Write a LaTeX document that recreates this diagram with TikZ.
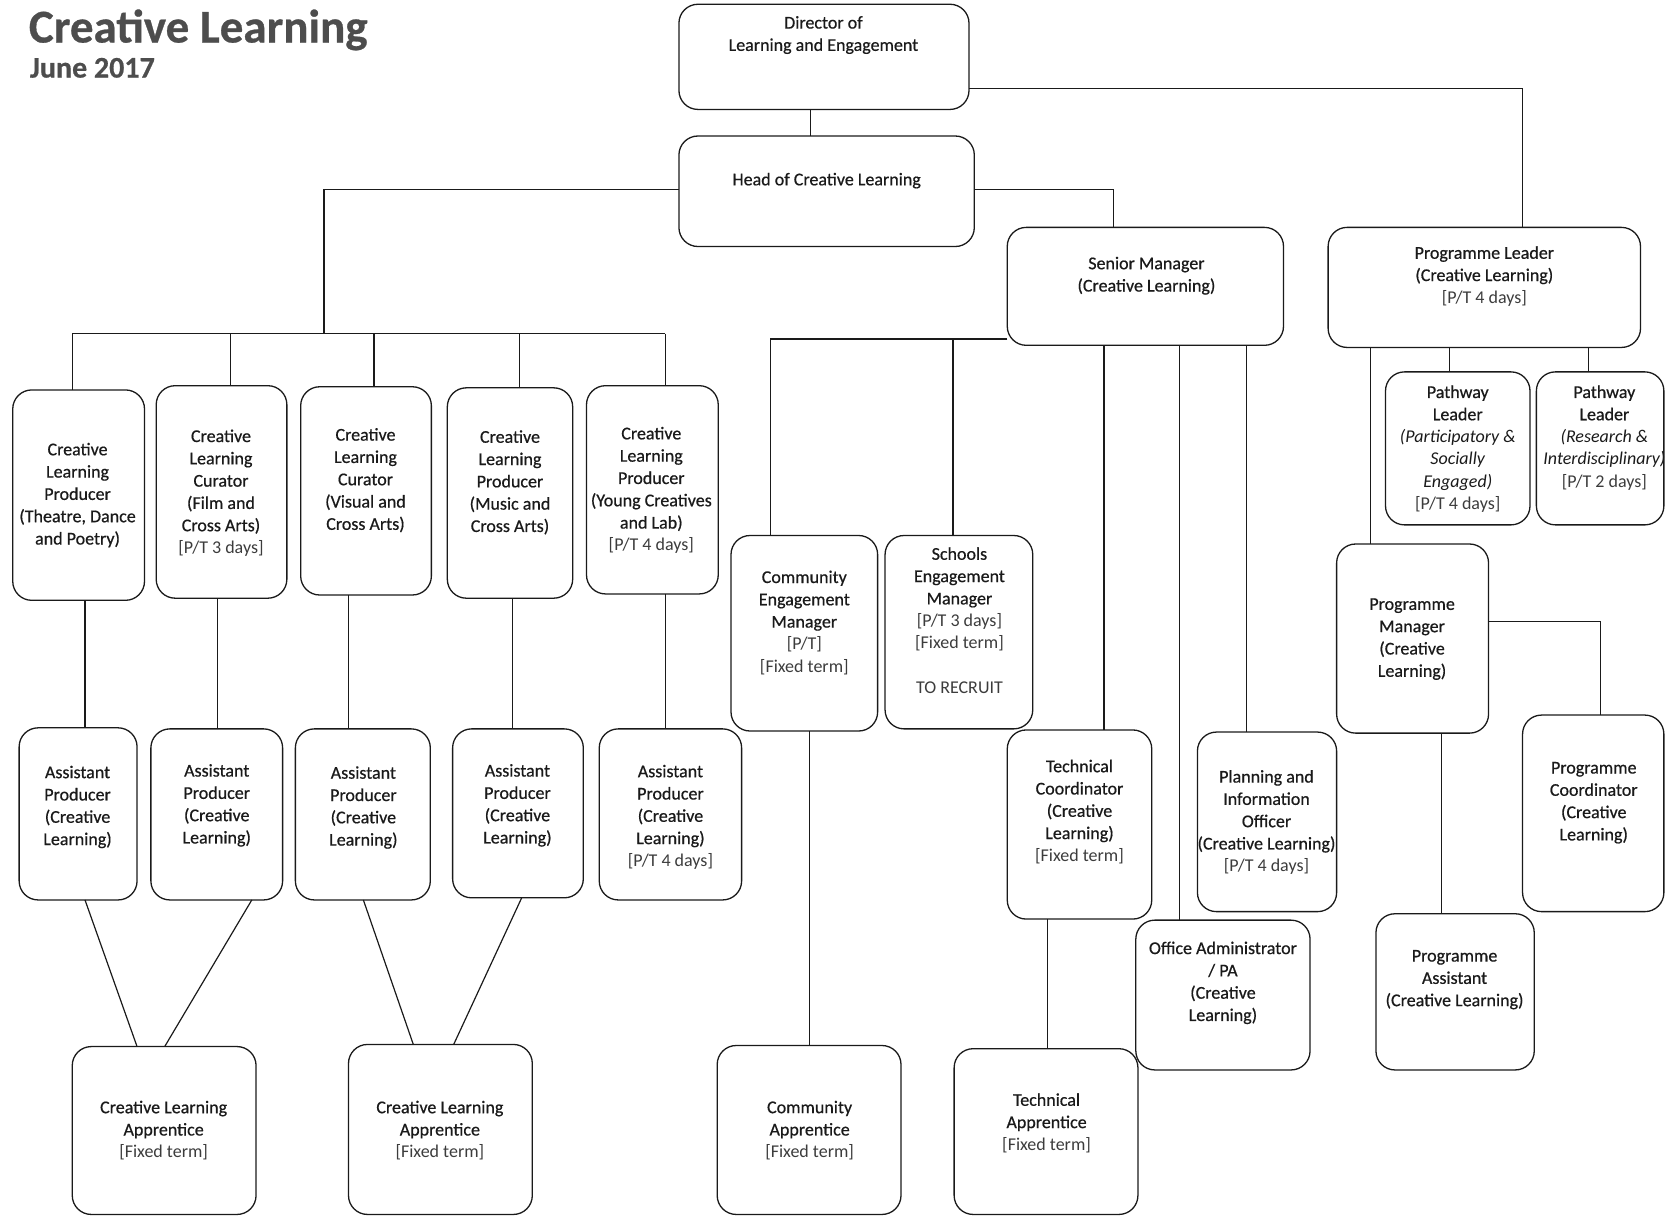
\documentclass[tikz,border=0pt]{standalone}
\usepackage{fontspec}
\setmainfont{Carlito}[FakeBold=0.6]
\newfontfamily\lightfont{Carlito}
\usetikzlibrary{fit}
\definecolor{ink}{HTML}{1A1A1A}
\definecolor{titlec}{HTML}{4D4D4D}
\tikzset{
 box/.style={draw=ink, line width=1.3pt, rounded corners=19pt, inner sep=0pt, outer sep=0pt},
 txt/.style={align=center, text=ink, font=\fontsize{18}{22.3}\selectfont, inner sep=0pt},
 conn/.style={draw=ink, line width=1.2pt},
}
\newcommand\tagb[1]{{\lightfont\color{ink!85}[#1]}}
\newcommand\bx[8]{\node[box, fit={(#2,#3)(#4,#5)}] (#1) {};
 \node[txt] (#1t) at (#6,#7) {#8};}
\begin{document}
\begin{tikzpicture}[x=1.0625pt,y=-1.0625pt]
\useasboundingbox (0,0) rectangle (1568,1145);
% title
\node[anchor=base west, font=\fontsize{47}{50}\selectfont\bfseries, text=titlec, inner sep=0pt] (title) at (27,40) {Creative Learning};
\node[anchor=base west, font=\fontsize{30}{32}\selectfont\bfseries, text=titlec, inner sep=0pt] (date) at (28,73) {June 2017};
% top
\bx{dir}{639}{4}{912}{103}{775}{33}{Director of\\Learning and Engagement}
\bx{head}{639}{128}{917}{232}{778}{170}{Head of Creative Learning}
\bx{sm}{948}{214}{1208}{325}{1079}{259.5}{Senior Manager\\(Creative Learning)}
\bx{pl}{1250}{214}{1544}{327}{1397}{260}{Programme Leader\\(Creative Learning)\\\tagb{P/T 4 days}}
\bx{pwa}{1304}{350}{1440}{494}{1372}{422.5}{Pathway\\Leader\\{\lightfont\itshape(Participatory \&}\\{\lightfont\itshape Socially}\\{\lightfont\itshape Engaged)}\\\tagb{P/T 4 days}}
\bx{pwb}{1446}{350}{1566}{494}{1510}{412}{Pathway\\Leader\\{\lightfont\itshape(Research \&}\\{\lightfont\itshape Interdisciplinary)}\\\tagb{P/T 2 days}}
% left top row
\bx{cla}{12}{367}{136}{565}{73}{466}{Creative\\Learning\\Producer\\(Theatre, Dance\\and Poetry)}
\bx{clb}{147}{363}{270}{563}{208}{464}{Creative\\Learning\\Curator\\(Film and\\Cross Arts)\\\tagb{P/T 3 days}}
\bx{clc}{283}{364}{406}{560}{344}{452}{Creative\\Learning\\Curator\\(Visual and\\Cross Arts)}
\bx{cld}{421}{365}{539}{563}{480}{454}{Creative\\Learning\\Producer\\(Music and\\Cross Arts)}
\bx{cle}{552}{363}{676}{559}{613}{461.5}{Creative\\Learning\\Producer\\(Young Creatives\\and Lab)\\\tagb{P/T 4 days}}
% assistants
\bx{apa}{18}{685}{129}{847}{73}{759.5}{Assistant\\Producer\\(Creative\\Learning)}
\bx{apb}{142}{686}{266}{847}{204}{758}{Assistant\\Producer\\(Creative\\Learning)}
\bx{apc}{278}{686}{405}{847}{342}{760}{Assistant\\Producer\\(Creative\\Learning)}
\bx{apd}{426}{686}{549}{845}{487}{758}{Assistant\\Producer\\(Creative\\Learning)}
\bx{ape}{564}{686}{698}{847}{631}{769}{Assistant\\Producer\\(Creative\\Learning)\\\tagb{P/T 4 days}}
% apprentices
\bx{appa}{68}{985}{241}{1143}{154}{1064}{Creative Learning\\Apprentice\\\tagb{Fixed term}}
\bx{appb}{328}{983}{501}{1143}{414}{1064}{Creative Learning\\Apprentice\\\tagb{Fixed term}}
\bx{capp}{675}{984}{848}{1143}{762}{1064}{Community\\Apprentice\\\tagb{Fixed term}}
\bx{tapp}{898}{987}{1071}{1143}{985}{1057}{Technical\\Apprentice\\\tagb{Fixed term}}
% senior manager team
\bx{cem}{688}{504}{826}{688}{757}{586}{Community\\Engagement\\Manager\\\tagb{P/T}\\\tagb{Fixed term}}
\bx{sem}{833}{504}{972}{686}{903}{584}{Schools\\Engagement\\Manager\\\tagb{P/T 3 days}\\\tagb{Fixed term}\\[22.3pt]{\lightfont\color{ink!85}TO RECRUIT}}
\bx{tc}{948}{687}{1084}{865}{1016}{764}{Technical\\Coordinator\\(Creative\\Learning)\\\tagb{Fixed term}}
\bx{pio}{1127}{689}{1258}{858}{1192}{774}{Planning and\\Information\\Officer\\(Creative Learning)\\\tagb{P/T 4 days}}
\bx{oa}{1069}{866}{1233}{1007}{1151}{925}{Office Administrator\\/ PA\\(Creative\\Learning)}
% programme team
\bx{pm}{1258}{512}{1401}{690}{1329}{601.5}{Programme\\Manager\\(Creative\\Learning)}
\bx{pc}{1433}{673}{1566}{858}{1500}{755.5}{Programme\\Coordinator\\(Creative\\Learning)}
\bx{pa}{1295}{860}{1444}{1007}{1369}{922}{Programme\\Assistant\\(Creative Learning)}
% ---------- connectors ----------
\coordinate (k1) at (763,0);
\draw[conn] (dir.south -| k1) -- (head.north -| k1);
\coordinate (k2) at (1433,83);
\draw[conn] (dir.east |- k2) -- (k2) -- (k2 |- pl.north);
\coordinate (k3) at (1048,178);
\draw[conn] (head.east |- k3) -- (k3) -- (k3 |- sm.north);
\coordinate (k4) at (305,178);
\coordinate (bar) at (305,314);
\draw[conn] (head.west |- k4) -- (k4) -- (bar);
\coordinate (b1) at (68,314);
\coordinate (b2) at (217,314);
\coordinate (b3) at (352,314);
\coordinate (b4) at (489,314);
\coordinate (b5) at (626,314);
\draw[conn] (b1) -- (b5);
\draw[conn] (b1) -- (b1 |- cla.north);
\draw[conn] (b2) -- (b2 |- clb.north);
\draw[conn] (b3) -- (b3 |- clc.north);
\draw[conn] (b4) -- (b4 |- cld.north);
\draw[conn] (b5) -- (b5 |- cle.north);
% top row to assistants
\coordinate (v1) at (80,0);
\coordinate (v2) at (205,0);
\coordinate (v3) at (328,0);
\coordinate (v4) at (482,0);
\coordinate (v5) at (626,0);
\draw[conn] (cla.south -| v1) -- (apa.north -| v1);
\draw[conn] (clb.south -| v2) -- (apb.north -| v2);
\draw[conn] (clc.south -| v3) -- (apc.north -| v3);
\draw[conn] (cld.south -| v4) -- (apd.north -| v4);
\draw[conn] (cle.south -| v5) -- (ape.north -| v5);
% assistants to apprentices
\coordinate (s1) at (80,0);
\coordinate (s2) at (129,0);
\coordinate (s3) at (237,0);
\coordinate (s4) at (155,0);
\coordinate (s5) at (342,0);
\coordinate (s6) at (389,0);
\coordinate (s7) at (491,0);
\coordinate (s8) at (427,0);
\draw[conn] (apa.south -| s1) -- (appa.north -| s2);
\draw[conn] (apb.south -| s3) -- (appa.north -| s4);
\draw[conn] (apc.south -| s5) -- (appb.north -| s6);
\draw[conn] (apd.south -| s7) -- (appb.north -| s8);
% senior manager
\coordinate (k5) at (725,319);
\coordinate (k6) at (897,319);
\draw[conn] (sm.west |- k5) -- (k5) -- (k5 |- cem.north);
\draw[conn] (k6) -- (k6 |- sem.north);
\coordinate (w1) at (1039,0);
\coordinate (w2) at (1110,0);
\coordinate (w3) at (1173,0);
\draw[conn] (sm.south -| w1) -- (tc.north -| w1);
\draw[conn] (sm.south -| w2) -- (oa.north -| w2);
\draw[conn] (sm.south -| w3) -- (pio.north -| w3);
\coordinate (w4) at (762,0);
\coordinate (w5) at (986,0);
\draw[conn] (cem.south -| w4) -- (capp.north -| w4);
\draw[conn] (tc.south -| w5) -- (tapp.north -| w5);
% programme leader
\coordinate (p1) at (1290,0);
\coordinate (p2) at (1364,0);
\coordinate (p3) at (1495,0);
\draw[conn] (pl.south -| p1) -- (pm.north -| p1);
\draw[conn] (pl.south -| p2) -- (pwa.north -| p2);
\draw[conn] (pl.south -| p3) -- (pwb.north -| p3);
\coordinate (k7) at (1506,585);
\draw[conn] (pm.east |- k7) -- (k7) -- (k7 |- pc.north);
\coordinate (p4) at (1357,0);
\draw[conn] (pm.south -| p4) -- (pa.north -| p4);
\end{tikzpicture}
\end{document}
